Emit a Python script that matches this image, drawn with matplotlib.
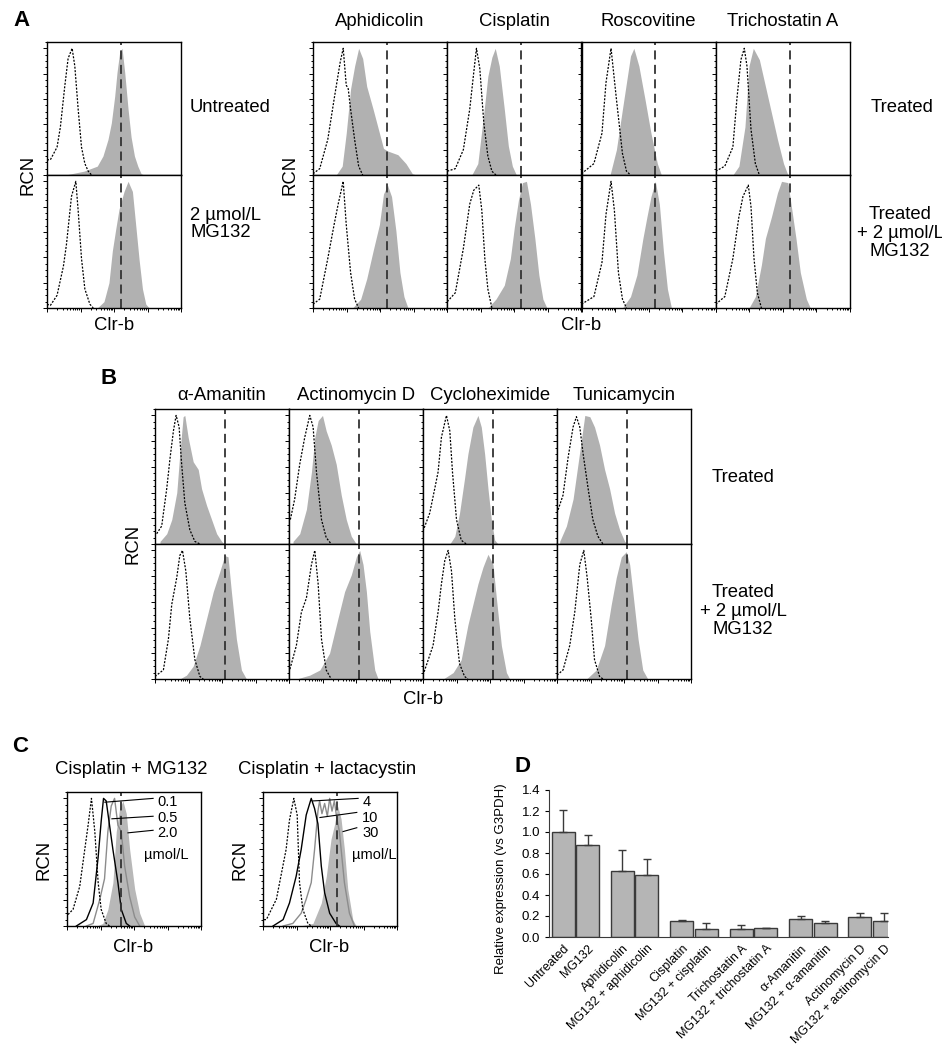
import numpy as np
import matplotlib.pyplot as plt
from matplotlib.ticker import MultipleLocator, LogLocator, NullFormatter

plt.rcParams['font.family'] = ['Liberation Sans', 'DejaVu Sans']

W, H = 942, 1050

# histogram curves as (log10 Clr-b, relative cell number) breakpoints
A_DRUGS = ["Aphidicolin", "Cisplatin", "Roscovitine", "Trichostatin A"]
B_DRUGS = ["\u03b1-Amanitin", "Actinomycin D", "Cycloheximide", "Tunicamycin"]

A_GATE = 2.2
B_GATE = 2.08
C_GATES = [1.62, 2.21]

UNTREATED_CTRL = [(0.0, 12), (0.1, 12), (0.3, 22), (0.4, 38), (0.53, 70), (0.63, 92), (0.75, 100),
                  (0.83, 86), (0.93, 52), (1.03, 22), (1.13, 9), (1.23, 3), (1.33, 0)]
UNTREATED_CLRB = [(0.55, 0), (1.1, 3), (1.5, 7), (1.67, 15), (1.82, 28), (1.92, 41), (2.02, 62), (2.09, 81),
                  (2.17, 97), (2.24, 100), (2.32, 81), (2.42, 52), (2.51, 30), (2.61, 15), (2.71, 7),
                  (2.81, 1), (2.9, 0)]
MG132_CTRL = [(0.0, 3), (0.1, 2), (0.3, 10), (0.49, 33), (0.58, 50), (0.73, 88), (0.86, 100), (0.93, 77),
              (1.03, 39), (1.13, 15), (1.28, 3), (1.38, 0)]
MG132_CLRB = [(1.5, 0), (1.7, 5), (1.85, 20), (1.95, 45), (2.05, 62), (2.15, 78), (2.3, 92), (2.42, 100),
              (2.55, 92), (2.65, 65), (2.75, 38), (2.85, 15), (2.95, 3), (3.05, 0)]

A_TREATED_CTRL = [
    [(0, 1), (0.2, 5), (0.44, 28), (0.63, 60), (0.81, 89), (0.9, 100), (0.99, 71), (1.05, 68), (1.12, 52),
     (1.24, 28), (1.36, 7), (1.48, 0)],
    [(0, 3), (0.24, 5), (0.48, 20), (0.67, 52), (0.79, 81), (0.87, 100), (0.97, 84), (1.09, 41), (1.21, 15),
     (1.33, 3), (1.45, 0)],
    [(0, 1), (0.37, 9), (0.61, 33), (0.73, 73), (0.88, 100), (1.04, 60), (1.22, 17), (1.34, 3), (1.46, 0)],
    [(0, 3), (0.27, 7), (0.51, 22), (0.63, 60), (0.75, 91), (0.85, 100), (0.93, 86), (1.05, 36), (1.18, 9),
     (1.3, 0)],
]
A_TREATED_CLRB = [
    [(0.69, 0), (0.87, 7), (0.99, 33), (1.12, 68), (1.24, 86), (1.36, 100), (1.48, 92), (1.6, 70), (1.79, 52),
     (1.98, 33), (2.1, 21), (2.22, 19), (2.53, 16), (2.77, 9), (2.96, 1), (3.08, 0)],
    [(0.73, 0), (0.91, 9), (1.09, 49), (1.21, 78), (1.33, 93), (1.43, 100), (1.55, 86), (1.7, 52), (1.82, 23),
     (1.94, 7), (2.06, 0)],
    [(0.85, 0), (1.04, 20), (1.22, 52), (1.34, 73), (1.46, 94), (1.56, 100), (1.71, 86), (1.89, 60), (2.07, 33),
     (2.26, 9), (2.38, 0)],
    [(0.51, 0), (0.69, 7), (0.87, 38), (0.99, 86), (1.12, 100), (1.3, 91), (1.48, 70), (1.66, 49), (1.84, 28),
     (2.02, 9), (2.15, 0)],
]
A_MG_CTRL = [
    [(0, 3), (0.2, 7), (0.44, 39), (0.63, 66), (0.75, 82), (0.9, 100), (0.99, 66), (1.12, 28), (1.24, 7), (1.36, 0)],
    [(0, 5), (0.24, 12), (0.48, 47), (0.67, 82), (0.79, 93), (0.94, 97), (1.03, 77), (1.12, 39), (1.21, 15),
     (1.33, 0)],
    [(0, 3), (0.37, 9), (0.61, 36), (0.73, 74), (0.88, 100), (0.98, 77), (1.1, 28), (1.22, 7), (1.34, 0)],
    [(0, 3), (0.27, 9), (0.51, 39), (0.69, 72), (0.81, 88), (0.97, 97), (1.05, 80), (1.14, 39), (1.24, 12),
     (1.36, 0)],
]
A_MG_CLRB = [
    [(1.18, 0), (1.42, 7), (1.6, 23), (1.79, 45), (1.98, 66), (2.1, 90), (2.22, 97), (2.34, 88), (2.47, 61),
     (2.59, 28), (2.71, 9), (2.83, 0)],
    [(1.21, 0), (1.45, 7), (1.7, 18), (1.88, 39), (2.0, 64), (2.12, 85), (2.24, 99), (2.36, 100), (2.48, 82),
     (2.61, 55), (2.73, 26), (2.85, 7), (2.97, 0)],
    [(1.22, 0), (1.46, 9), (1.65, 26), (1.83, 55), (1.95, 72), (2.07, 88), (2.2, 100), (2.32, 82), (2.44, 45),
     (2.56, 15), (2.68, 0)],
    [(0.99, 0), (1.18, 9), (1.36, 34), (1.48, 55), (1.66, 72), (1.84, 91), (1.96, 100), (2.15, 99), (2.27, 77),
     (2.39, 55), (2.52, 28), (2.7, 7), (2.82, 0)],
]

B_TREATED_CTRL = [
    [(0.05, 8), (0.2, 14), (0.35, 43), (0.45, 67), (0.55, 88), (0.63, 100), (0.72, 91), (0.79, 64), (0.89, 32),
     (1.04, 11), (1.19, 2), (1.34, 0)],
    [(0.04, 19), (0.17, 35), (0.32, 62), (0.47, 83), (0.62, 100), (0.72, 91), (0.82, 56), (0.97, 19), (1.11, 5),
     (1.26, 0)],
    [(0, 10), (0.2, 24), (0.35, 43), (0.45, 56), (0.55, 83), (0.7, 100), (0.8, 88), (0.88, 56), (1.0, 19),
     (1.14, 3), (1.29, 0)],
    [(0, 24), (0.18, 38), (0.33, 67), (0.48, 91), (0.58, 99), (0.68, 91), (0.78, 70), (0.93, 43), (1.07, 19),
     (1.22, 6), (1.37, 0)],
]
B_TREATED_CLRB = [
    [(0.15, 2), (0.35, 8), (0.5, 19), (0.65, 40), (0.74, 70), (0.84, 99), (0.89, 100), (0.99, 83), (1.14, 64),
     (1.29, 58), (1.39, 43), (1.54, 30), (1.69, 19), (1.84, 8), (1.99, 2), (2.08, 0)],
    [(0.12, 2), (0.32, 8), (0.52, 27), (0.67, 56), (0.77, 83), (0.87, 96), (1.0, 100), (1.11, 88), (1.26, 77),
     (1.41, 62), (1.56, 38), (1.71, 19), (1.86, 6), (2.01, 0)],
    [(0.8, 0), (0.95, 6), (1.09, 24), (1.24, 51), (1.34, 70), (1.49, 91), (1.64, 100), (1.74, 91), (1.84, 70),
     (1.94, 43), (2.04, 19), (2.14, 3), (2.24, 0)],
    [(0.08, 2), (0.28, 14), (0.48, 35), (0.68, 72), (0.83, 100), (0.98, 99), (1.12, 91), (1.27, 77), (1.42, 58),
     (1.57, 43), (1.72, 24), (1.87, 11), (2.02, 2), (2.12, 0)],
]
B_MG_CTRL = [
    [(0, 2), (0.25, 7), (0.4, 31), (0.5, 58), (0.65, 79), (0.74, 96), (0.82, 100), (0.92, 84), (1.04, 47),
     (1.19, 15), (1.34, 2), (1.44, 0)],
    [(0, 5), (0.22, 26), (0.37, 52), (0.52, 63), (0.67, 89), (0.77, 100), (0.87, 74), (0.97, 31), (1.11, 7),
     (1.26, 0)],
    [(0, 3), (0.3, 26), (0.45, 52), (0.55, 74), (0.65, 92), (0.75, 100), (0.85, 84), (0.95, 47), (1.09, 12),
     (1.24, 2), (1.34, 0)],
    [(0, 3), (0.18, 7), (0.38, 26), (0.53, 52), (0.68, 89), (0.8, 100), (0.9, 79), (1.02, 47), (1.12, 15),
     (1.27, 2), (1.37, 0)],
]
B_MG_CLRB = [
    [(0.74, 0), (0.94, 3), (1.14, 10), (1.34, 26), (1.54, 47), (1.74, 68), (1.94, 84), (2.08, 96), (2.18, 95),
     (2.28, 68), (2.43, 31), (2.58, 7), (2.73, 0)],
    [(0.22, 0), (0.62, 3), (0.92, 7), (1.21, 20), (1.46, 47), (1.66, 68), (1.86, 81), (2.01, 95), (2.11, 100),
     (2.21, 89), (2.31, 68), (2.41, 37), (2.56, 7), (2.66, 0)],
    [(0.6, 0), (0.9, 5), (1.14, 15), (1.34, 42), (1.49, 58), (1.64, 74), (1.79, 87), (1.94, 97), (2.09, 89),
     (2.19, 63), (2.34, 26), (2.49, 5), (2.59, 0)],
    [(0.88, 0), (1.17, 7), (1.42, 26), (1.62, 58), (1.77, 79), (1.92, 95), (2.07, 99), (2.17, 89), (2.27, 66),
     (2.42, 31), (2.56, 7), (2.71, 0)],
]

C_TITLES = ["Cisplatin + MG132", "Cisplatin + lactacystin"]
C_DOSE_LABELS = [["0.1", "0.5", "2.0"], ["4", "10", "30"]]
C_CTRL = [
    [(0.03, 9), (0.18, 13), (0.38, 31), (0.53, 60), (0.63, 79), (0.73, 100), (0.83, 74), (0.93, 34), (1.02, 13),
     (1.17, 2), (1.27, 0)],
    [(0.03, 5), (0.1, 5), (0.4, 21), (0.69, 60), (0.79, 83), (0.92, 100), (1.02, 87), (1.09, 34), (1.19, 13),
     (1.34, 2), (1.44, 0)],
]
C_LOW = [
    [(0.28, 0), (0.58, 5), (0.78, 18), (0.93, 54), (1.02, 82), (1.09, 100), (1.17, 98), (1.27, 79), (1.37, 60),
     (1.52, 34), (1.62, 13), (1.77, 2), (1.87, 0)],
    [(0.3, 0), (0.6, 5), (0.79, 18), (0.99, 39), (1.14, 60), (1.29, 87), (1.44, 100), (1.54, 92), (1.64, 80),
     (1.74, 47), (1.84, 26), (1.99, 10), (2.18, 2), (2.28, 0)],
]
C_MID = [
    [(0.58, 0), (0.78, 2), (0.98, 21), (1.12, 37), (1.22, 74), (1.32, 94), (1.42, 100), (1.52, 79), (1.62, 74),
     (1.72, 47), (1.87, 23), (2.02, 7), (2.17, 0)],
    [(0.6, 0), (0.89, 2), (1.14, 10), (1.29, 21), (1.44, 34), (1.54, 60), (1.64, 90), (1.69, 98), (1.76, 88),
     (1.84, 96), (1.92, 86), (1.99, 100), (2.06, 90), (2.13, 98), (2.2, 85), (2.28, 74), (2.43, 34), (2.58, 10),
     (2.73, 0)],
]
C_HIGH = [
    [(0.88, 0), (1.07, 2), (1.22, 13), (1.37, 34), (1.47, 74), (1.57, 92), (1.67, 98), (1.77, 88), (1.87, 60),
     (2.02, 29), (2.17, 10), (2.32, 0)],
    [(1.09, 0), (1.49, 2), (1.74, 18), (1.89, 39), (2.03, 68), (2.13, 79), (2.23, 94), (2.33, 84), (2.43, 60),
     (2.53, 29), (2.68, 5), (2.78, 0)],
]

D_LABELS = ["Untreated", "MG132", "Aphidicolin", "MG132 + aphidicolin", "Cisplatin", "MG132 + cisplatin",
            "Trichostatin A", "MG132 + trichostatin A", "\u03b1-Amanitin", "MG132 + \u03b1-amanitin",
            "Actinomycin D", "MG132 + actinomycin D"]
D_MEANS = [1.00, 0.88, 0.63, 0.59, 0.15, 0.08, 0.08, 0.09, 0.17, 0.13, 0.19, 0.15]
D_SEM = [0.21, 0.09, 0.20, 0.15, 0.015, 0.05, 0.03, 0.0, 0.03, 0.02, 0.04, 0.08]

FILL = '#b1b1b1'
LABEL_FS = 13.3
fig = plt.figure(figsize=(W / 100, H / 100), dpi=100)


def px_axes(x0, y0, w, h):
    return fig.add_axes([x0 / W, 1 - (y0 + h) / H, w / W, h / H])


def txt(x, y, s, **kw):
    kw.setdefault('fontsize', LABEL_FS)
    kw.setdefault('ha', 'center')
    kw.setdefault('va', 'center')
    fig.text(x / W, 1 - y / H, s, **kw)


def xy(pts):
    d, v = zip(*pts)
    return 10 ** np.array(d), np.array(v)


def hist_axes(x0, y0, w, h):
    ax = px_axes(x0, y0, w, h)
    ax.set_xscale('log')
    ax.set_xlim(1, 1e4)
    ax.set_ylim(0, 105)
    ax.xaxis.set_major_locator(LogLocator(base=10, numticks=10))
    ax.xaxis.set_minor_locator(LogLocator(base=10, subs=np.arange(2, 10), numticks=10))
    ax.xaxis.set_major_formatter(NullFormatter())
    ax.xaxis.set_minor_formatter(NullFormatter())
    ax.yaxis.set_major_locator(MultipleLocator(20))
    ax.yaxis.set_minor_locator(MultipleLocator(5))
    ax.tick_params(which='both', direction='out', labelleft=False, labelbottom=False, width=0.7)
    ax.tick_params(which='major', length=3)
    ax.tick_params(which='minor', length=1.5)
    for s in ax.spines.values():
        s.set_linewidth(1.0)
    return ax


def draw_pair(ax, ctrl, clrb, gate):
    x, y = xy(clrb)
    ax.fill_between(x, 0, y, color=FILL, lw=0)
    x, y = xy(ctrl)
    ax.plot(x, y, color='k', lw=0.9, ls=(0, (1.6, 1.2)))
    ax.axvline(10 ** gate, color='#333333', lw=1.3, ls=(0, (5, 3)))


# ---------- A ----------
txt(22, 20, "A", fontsize=16, fontweight='bold')
for r, (ctrl, clrb) in enumerate([(UNTREATED_CTRL, UNTREATED_CLRB), (MG132_CTRL, MG132_CLRB)]):
    ax = hist_axes(47, 42 + r * 133, 134, 133)
    draw_pair(ax, ctrl, clrb, A_GATE)
txt(190, 107, "Untreated", ha='left')
txt(190, 224, "2 \u00b5mol/L\nMG132", ha='left', linespacing=1.0)
txt(28, 175, "RCN", rotation=90)
txt(114, 326, "Clr-b")

colw = 134.25
for i, drug in enumerate(A_DRUGS):
    x0 = 313 + i * colw
    txt(x0 + colw / 2, 22, drug)
    ax = hist_axes(x0, 42, colw, 133)
    draw_pair(ax, A_TREATED_CTRL[i], A_TREATED_CLRB[i], A_GATE)
    ax = hist_axes(x0, 175, colw, 133)
    draw_pair(ax, A_MG_CTRL[i], A_MG_CLRB[i], A_GATE)
txt(290, 175, "RCN", rotation=90)
txt(902, 107, "Treated")
txt(900, 233, "Treated\n+ 2 \u00b5mol/L\nMG132", linespacing=1.1)
txt(581, 326, "Clr-b")

# ---------- B ----------
txt(109, 378, "B", fontsize=16, fontweight='bold')
for i, drug in enumerate(B_DRUGS):
    x0 = 155 + i * 134
    txt(x0 + 67, 395, drug)
    ax = hist_axes(x0, 409, 134, 135)
    draw_pair(ax, B_TREATED_CTRL[i], B_TREATED_CLRB[i], B_GATE)
    ax = hist_axes(x0, 544, 134, 135)
    draw_pair(ax, B_MG_CTRL[i], B_MG_CLRB[i], B_GATE)
txt(133, 544, "RCN", rotation=90)
txt(743, 477, "Treated")
txt(743, 611, "Treated\n+ 2 \u00b5mol/L\nMG132", linespacing=1.1)
txt(423, 699, "Clr-b")

# ---------- C ----------
txt(20, 746, "C", fontsize=16, fontweight='bold')
# leader lines: (line start, line end, text) in (decade, RCN)
leaders = [
    [((1.13, 97), (2.57, 100), (2.69, 97)), ((1.34, 84), (2.57, 86), (2.69, 85)), ((1.82, 73), (2.57, 75), (2.69, 73))],
    [((1.49, 98), (2.84, 100), (2.96, 97)), ((1.7, 85), (2.8, 89), (2.96, 85)), ((2.39, 74), (2.8, 77), (2.96, 73))],
]
for k, x0 in enumerate([67, 263]):
    ax = hist_axes(x0, 792, 134, 134)
    x, y = xy(C_HIGH[k])
    ax.fill_between(x, 0, y, color='#b8b8b8', lw=0)
    x, y = xy(C_MID[k])
    ax.plot(x, y, color='#8c8c8c', lw=1.0)
    x, y = xy(C_LOW[k])
    ax.plot(x, y, color='k', lw=1.0)
    x, y = xy(C_CTRL[k])
    ax.plot(x, y, color='k', lw=0.9, ls=(0, (1.6, 1.2)))
    ax.axvline(10 ** C_GATES[k], color='#333333', lw=1.3, ls=(0, (5, 3)))
    for (a, b, t), lab in zip(leaders[k], C_DOSE_LABELS[k]):
        ax.plot([10 ** a[0], 10 ** b[0]], [a[1], b[1]], color='k', lw=0.8, clip_on=False)
        ax.text(10 ** t[0], t[1], lab, fontsize=10.5, ha='left', va='center')
    ax.text(10 ** (2.3 if k == 0 else 2.66), 56, "\u00b5mol/L", fontsize=10.5, ha='left', va='center')
    txt(x0 + 64, 770, C_TITLES[k])
    txt(x0 - 23, 860, "RCN", rotation=90)
    txt(x0 + 66, 948, "Clr-b")

# ---------- D ----------
txt(522, 766, "D", fontsize=16, fontweight='bold')
ax = px_axes(549, 790, 339, 147)
pos = [g * 2.426 + j for g in range(6) for j in range(2)]
ax.bar(pos, D_MEANS, width=0.94, color='#b5b5b5', edgecolor='#3a3a3a', lw=1.0,
       yerr=[np.zeros(len(D_SEM)), D_SEM], capsize=3,
       error_kw=dict(ecolor='#3a3a3a', elinewidth=1.0, capthick=1.0))
ax.set_xlim(-0.574, 13.85 - 0.574)
ax.set_ylim(0, 1.4)
ax.yaxis.set_major_locator(MultipleLocator(0.2))
ax.yaxis.set_major_formatter(plt.FuncFormatter(lambda v, p: f"{v:.1f}"))
ax.set_xticks(pos)
ax.set_xticklabels(D_LABELS, rotation=45, ha='right', va='top', rotation_mode='anchor', fontsize=9)
ax.tick_params(axis='x', length=0, pad=4)
ax.tick_params(axis='y', direction='out', length=3, labelsize=9.5)
ax.spines['top'].set_visible(False)
ax.spines['right'].set_visible(False)
ax.spines['left'].set_color('#3a3a3a')
ax.spines['bottom'].set_color('#3a3a3a')
ax.set_ylabel("Relative expression (vs G3PDH)", fontsize=9.5)
ax.yaxis.set_label_coords(-0.124, 0.4)

fig.savefig("out.png", dpi=100)
